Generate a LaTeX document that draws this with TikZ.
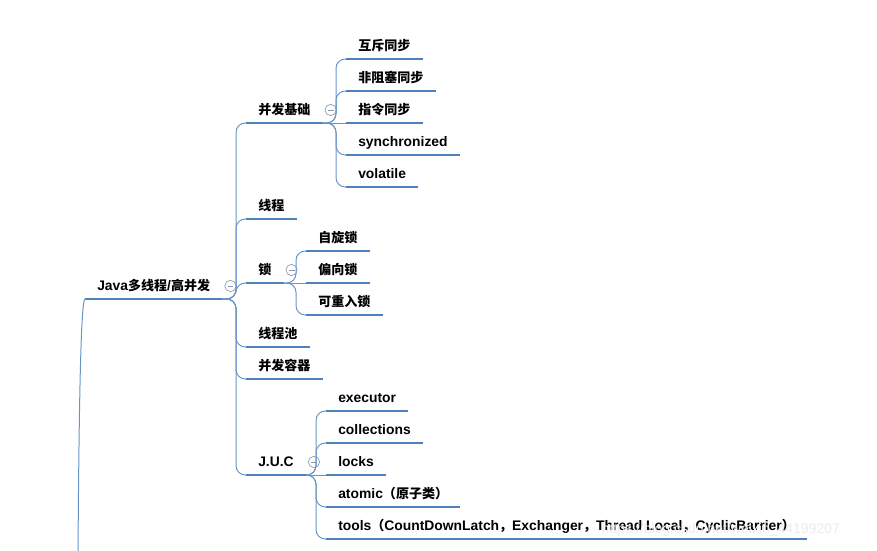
\documentclass[tikz,border=0pt]{standalone}
\usepackage{fontspec}
\setmainfont{Liberation Sans}
\newfontfamily\cjk{Noto Sans CJK SC}[Scale=0.94]
\newcommand{\zh}[1]{{\cjk #1}}
\definecolor{mapblue}{RGB}{79,129,189}
\definecolor{knobgray}{RGB}{140,155,180}
\tikzstyle{uline}=[-, draw=mapblue, line width=2.2pt]
\tikzstyle{link}=[-, draw=mapblue!85, line width=0.75pt, rounded corners=7pt]
\tikzstyle{branch}=[to path={-| ([xshift=-7.5pt]\tikztotarget) -- (\tikztotarget)}]
\tikzstyle{topic}=[anchor=south west, inner xsep=9pt, inner ysep=3.75pt, text height=7.5pt, text depth=2.25pt,
  font=\bfseries\fontsize{10.4}{12}\selectfont,
  append after command={(\tikzlastnode.south west) edge[uline] (\tikzlastnode.south east)}]
\tikzstyle{knob}=[circle, draw=knobgray, line width=0.5pt, fill=white, minimum size=8.5pt, inner sep=0pt,
  path picture={\draw[knobgray, line width=0.5pt] ([xshift=-2.2pt]path picture bounding box.center) -- ([xshift=2.2pt]path picture bounding box.center);}]

\begin{document}
\begin{tikzpicture}[x=0.75pt, y=-0.75pt]
    \useasboundingbox (0,0) rectangle (877,550);

    \node [topic] (root) at (85, 299) {Java\zh{多线程}/\zh{高并发}};
    \coordinate (up) at (78, 556);

    \node [topic] (jc) at (246, 123) {\zh{并发基础}};
    \node [topic] (xc) at (246, 219) {\zh{线程}};
    \node [topic] (suo) at (246, 283) {\zh{锁}};
    \node [topic] (pool) at (246, 347) {\zh{线程池}};
    \node [topic] (box) at (246, 379) {\zh{并发容器}};
    \node [topic] (juc) at (246, 475) {J.U.C};

    \node [topic] (j1) at (346, 59) {\zh{互斥同步}};
    \node [topic] (j2) at (346, 91) {\zh{非阻塞同步}};
    \node [topic] (j3) at (346, 123) {\zh{指令同步}};
    \node [topic] (j4) at (346, 155) {synchronized};
    \node [topic] (j5) at (346, 187) {volatile};

    \node [topic] (s1) at (306, 251) {\zh{自旋锁}};
    \node [topic] (s2) at (306, 283) {\zh{偏向锁}};
    \node [topic] (s3) at (306, 315) {\zh{可重入锁}};

    \node [topic] (u1) at (326, 411) {executor};
    \node [topic] (u2) at (326, 443) {collections};
    \node [topic] (u3) at (326, 475) {locks};
    \node [topic] (u4) at (326, 507) {atomic\zh{（原子类）}};
    \node [topic] (u5) at (326, 539) {tools\zh{（}CountDownLatch\zh{，}Exchanger\zh{，}Thread Local\zh{，}CyclicBarrier\zh{）}};

    \node [knob] (k0) at ([shift={(8,-13)}]root.south east) {};
    \node [knob] (k1) at ([shift={(8,-13)}]jc.south east) {};
    \node [knob] (k2) at ([shift={(8,-13)}]suo.south east) {};
    \node [knob] (k3) at ([shift={(8,-13)}]juc.south east) {};

    \node [anchor=west, text=black!8, font=\fontsize{10.5}{12}\selectfont] (wm) at (597, 530) {https://blog.csdn.net/weixin\_44199207};

    \draw [link] (up) .. controls (79, 400) and (81, 299) .. (root.south west);
    \foreach \c in {jc, xc, pool, box, juc}
        \draw [link] (root.south east) to[branch] (\c.south west);
    \draw [link] (root.south east) to[branch] (suo.south west);
    \foreach \c in {j1, j2, j4, j5}
        \draw [link] (jc.south east) to[branch] (\c.south west);
    \draw [link] (jc.south east) -- (j3.south west);
    \foreach \c in {s1, s3}
        \draw [link] (suo.south east) to[branch] (\c.south west);
    \draw [link] (suo.south east) -- (s2.south west);
    \foreach \c in {u1, u2, u4, u5}
        \draw [link] (juc.south east) to[branch] (\c.south west);
    \draw [link] (juc.south east) -- (u3.south west);
\end{tikzpicture}
\end{document}
